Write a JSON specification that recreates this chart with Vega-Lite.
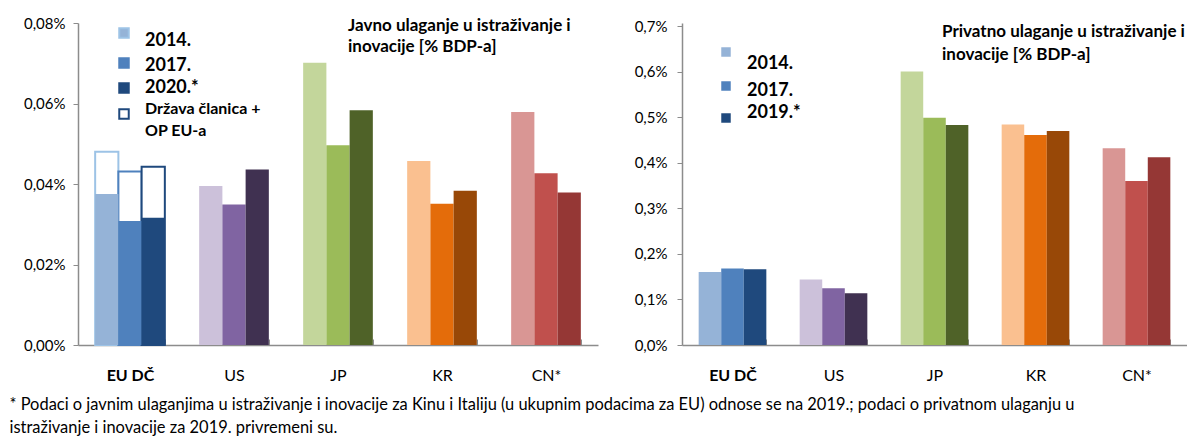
{
  "$schema": "https://vega.github.io/schema/vega-lite/v6.json",
  "padding": {"left": 9, "top": 16, "right": 0, "bottom": 5},
  "background": "white",
  "config": {
    "view": {"stroke": null},
    "font": "Lato",
    "axis": {"labelFont": "Lato", "labelColor": "#000000", "domainColor": "#8c8c8c", "tickColor": "#8c8c8c", "domainWidth": 1.5, "grid": false, "title": null}
  },
  "title": {
    "text": ["* Podaci o javnim ulaganjima u istraživanje i inovacije za Kinu i Italiju (u ukupnim podacima za EU) odnose se na 2019.; podaci o privatnom ulaganju u", "istraživanje i inovacije za 2019. privremeni su."],
    "orient": "bottom", "anchor": "start", "frame": "bounds",
    "font": "Lato", "fontSize": 16.45, "fontWeight": "normal", "color": "#000000",
    "lineHeight": 23, "offset": 14, "dx": -14
  },
  "resolve": {"scale": {"fill": "independent", "stroke": "independent", "y": "independent", "x": "independent", "xOffset": "independent"}, "legend": {"fill": "independent", "stroke": "independent"}},
  "spacing": 36,
  "hconcat": [
    {
      "width": 520,
      "height": 322,
      "title": {"text": ["Javno ulaganje u istraživanje i", "inovacije [% BDP-a]"], "orient": "none", "anchor": "start", "dx": 270, "dy": 3, "font": "Lato", "fontSize": 17, "fontWeight": "bold", "lineHeight": 21, "color": "#000000", "baseline": "middle"},
      "data": {"values": [
        {"country": "EU DČ", "year": "2014", "value": 0.0375, "measure": "national"},
        {"country": "EU DČ", "year": "2017", "value": 0.0308, "measure": "national"},
        {"country": "EU DČ", "year": "2020", "value": 0.0316, "measure": "national"},
        {"country": "EU DČ", "year": "2014", "value": 0.0480, "measure": "total"},
        {"country": "EU DČ", "year": "2017", "value": 0.0431, "measure": "total"},
        {"country": "EU DČ", "year": "2020", "value": 0.0443, "measure": "total"},
        {"country": "US", "year": "2014", "value": 0.0395, "measure": "national"},
        {"country": "US", "year": "2017", "value": 0.0349, "measure": "national"},
        {"country": "US", "year": "2020", "value": 0.0436, "measure": "national"},
        {"country": "JP", "year": "2014", "value": 0.0701, "measure": "national"},
        {"country": "JP", "year": "2017", "value": 0.0496, "measure": "national"},
        {"country": "JP", "year": "2020", "value": 0.0583, "measure": "national"},
        {"country": "KR", "year": "2014", "value": 0.0457, "measure": "national"},
        {"country": "KR", "year": "2017", "value": 0.0351, "measure": "national"},
        {"country": "KR", "year": "2020", "value": 0.0383, "measure": "national"},
        {"country": "CN*", "year": "2014", "value": 0.0579, "measure": "national"},
        {"country": "CN*", "year": "2017", "value": 0.0427, "measure": "national"},
        {"country": "CN*", "year": "2020", "value": 0.0379, "measure": "national"}
      ]},
      "encoding": {
        "x": {"field": "country", "type": "nominal", "sort": ["EU DČ", "US", "JP", "KR", "CN*"],
              "scale": {"paddingInner": 0.33, "paddingOuter": 0.165},
              "axis": {"labelAngle": 0, "labelFontSize": 16, "tickSize": -6, "tickBand": "extent", "labelPadding": 28,
                       "labelFontWeight": {"condition": {"test": "datum.value == 'EU DČ'", "value": "bold"}, "value": "normal"}}},
        "xOffset": {"field": "year", "type": "nominal", "scale": {"domain": ["2014", "2017", "2020"], "paddingInner": 0, "paddingOuter": 0}},
        "y": {"field": "value", "type": "quantitative", "scale": {"domain": [0, 0.08], "nice": false},
              "axis": {"values": [0, 0.02, 0.04, 0.06, 0.08], "labelExpr": "replace(format(datum.value, '.2f'), '.', ',') + '%'", "labelFontSize": 15, "tickSize": 5, "labelPadding": 8}}
      },
      "layer": [
        {
          "transform": [{"filter": "datum.measure == 'total'"}],
          "mark": {"type": "bar", "fill": "white", "strokeWidth": 2},
          "encoding": {
            "stroke": {"field": "year", "type": "nominal",
                       "scale": {"domain": ["2014", "2017", "2020", "OP"], "range": ["#9DC3E6", "#4F81BD", "#1F497D", "#1F497D"]},
                       "legend": {"orient": "none", "legendX": 37, "legendY": 1, "title": null, "symbolType": "square", "symbolSize": 90, "symbolStrokeWidth": 2,
                                  "labelFont": "Lato", "labelFontWeight": "bold", "labelFontSize": 18, "labelColor": "#000000", "labelOffset": 12, "rowPadding": 4, "padding": 0,
                                  "labelExpr": "datum.value == 'OP' ? ['Država članica +', 'OP EU-a'] : datum.value == '2020' ? '2020.*' : datum.value + '.'",
                                  "encode": {"labels": {"update": {"fontSize": {"signal": "datum.value == 'OP' ? 16 : 18"}, "dy": {"signal": "datum.value == '2014' ? 8 : datum.value == '2017' ? 3 : datum.value == '2020' ? 0 : -5"}, "lineHeight": {"value": 22}}}}}}
          }
        },
        {
          "transform": [{"filter": "datum.measure == 'national'"}],
          "mark": {"type": "bar"},
          "encoding": {
            "fill": {"field": "year", "type": "nominal",
                     "scale": {"domain": ["2014", "2017", "2020", "OP"], "range": ["#95B3D7", "#4F81BD", "#1F497D", "#ffffff"]},
                     "legend": {"orient": "none", "legendX": 37, "legendY": 1, "title": null, "symbolType": "square", "symbolSize": 90, "symbolStrokeWidth": 2,
                                "labelFont": "Lato", "labelFontWeight": "bold", "labelFontSize": 18, "labelColor": "#000000", "labelOffset": 12, "rowPadding": 4, "padding": 0,
                                "labelExpr": "datum.value == 'OP' ? ['Država članica +', 'OP EU-a'] : datum.value == '2020' ? '2020.*' : datum.value + '.'",
                                "encode": {"labels": {"update": {"fontSize": {"signal": "datum.value == 'OP' ? 16 : 18"}, "dy": {"signal": "datum.value == '2014' ? 8 : datum.value == '2017' ? 3 : datum.value == '2020' ? 0 : -5"}, "lineHeight": {"value": 22}}}}},
                     "condition": [
                       {"test": "datum.country == 'US' && datum.year == '2014'", "value": "#CCC1DA"},
                       {"test": "datum.country == 'US' && datum.year == '2017'", "value": "#8064A2"},
                       {"test": "datum.country == 'US' && datum.year == '2020'", "value": "#403151"},
                       {"test": "datum.country == 'JP' && datum.year == '2014'", "value": "#C3D69B"},
                       {"test": "datum.country == 'JP' && datum.year == '2017'", "value": "#9BBB59"},
                       {"test": "datum.country == 'JP' && datum.year == '2020'", "value": "#4F6228"},
                       {"test": "datum.country == 'KR' && datum.year == '2014'", "value": "#FAC090"},
                       {"test": "datum.country == 'KR' && datum.year == '2017'", "value": "#E46C0A"},
                       {"test": "datum.country == 'KR' && datum.year == '2020'", "value": "#984807"},
                       {"test": "datum.country == 'CN*' && datum.year == '2014'", "value": "#D99694"},
                       {"test": "datum.country == 'CN*' && datum.year == '2017'", "value": "#C0504D"},
                       {"test": "datum.country == 'CN*' && datum.year == '2020'", "value": "#953735"}
                     ]}
          }
        }
      ]
    },
    {
      "width": 505,
      "height": 322,
      "title": {"text": ["Privatno ulaganje u istraživanje i", "inovacije [% BDP-a]"], "orient": "none", "anchor": "start", "dx": 260, "dy": 9, "font": "Lato", "fontSize": 17, "fontWeight": "bold", "lineHeight": 23, "color": "#000000", "baseline": "middle"},
      "data": {"values": [
        {"country": "EU DČ", "year": "2014", "value": 0.160},
        {"country": "EU DČ", "year": "2017", "value": 0.168},
        {"country": "EU DČ", "year": "2019", "value": 0.166},
        {"country": "US", "year": "2014", "value": 0.144},
        {"country": "US", "year": "2017", "value": 0.1245},
        {"country": "US", "year": "2019", "value": 0.1135},
        {"country": "JP", "year": "2014", "value": 0.600},
        {"country": "JP", "year": "2017", "value": 0.4986},
        {"country": "JP", "year": "2019", "value": 0.4826},
        {"country": "KR", "year": "2014", "value": 0.484},
        {"country": "KR", "year": "2017", "value": 0.4606},
        {"country": "KR", "year": "2019", "value": 0.4694},
        {"country": "CN*", "year": "2014", "value": 0.432},
        {"country": "CN*", "year": "2017", "value": 0.360},
        {"country": "CN*", "year": "2019", "value": 0.412}
      ]},
      "mark": {"type": "bar"},
      "encoding": {
        "x": {"field": "country", "type": "nominal", "sort": ["EU DČ", "US", "JP", "KR", "CN*"],
              "scale": {"paddingInner": 0.33, "paddingOuter": 0.165},
              "axis": {"labelAngle": 0, "labelFontSize": 16, "tickSize": -6, "tickBand": "extent", "labelPadding": 28,
                       "labelFontWeight": {"condition": {"test": "datum.value == 'EU DČ'", "value": "bold"}, "value": "normal"}}},
        "xOffset": {"field": "year", "type": "nominal", "scale": {"domain": ["2014", "2017", "2019"], "paddingInner": 0, "paddingOuter": 0}},
        "y": {"field": "value", "type": "quantitative", "scale": {"domain": [0, 0.7066], "nice": false},
              "axis": {"values": [0, 0.1, 0.2, 0.3, 0.4, 0.5, 0.6, 0.7], "labelExpr": "replace(format(datum.value, '.1f'), '.', ',') + '%'", "labelFontSize": 15, "tickSize": 5, "labelPadding": 10}},
        "fill": {"field": "year", "type": "nominal",
                 "scale": {"domain": ["2014", "2017", "2019"], "range": ["#95B3D7", "#4F81BD", "#1F497D"]},
                 "legend": {"orient": "none", "legendX": 35, "legendY": 20, "title": null, "symbolType": "square", "symbolSize": 90,
                            "labelFont": "Lato", "labelFontWeight": "bold", "labelFontSize": 18, "labelColor": "#000000", "labelOffset": 12, "rowPadding": 4, "padding": 0,
                            "labelExpr": "datum.value == '2019' ? '2019.*' : datum.value + '.'",
                            "encode": {"labels": {"update": {"dy": {"signal": "datum.value == '2014' ? 12 : datum.value == '2017' ? 5 : -5"}}}}},
                 "condition": [
                   {"test": "datum.country == 'US' && datum.year == '2014'", "value": "#CCC1DA"},
                   {"test": "datum.country == 'US' && datum.year == '2017'", "value": "#8064A2"},
                   {"test": "datum.country == 'US' && datum.year == '2019'", "value": "#403151"},
                   {"test": "datum.country == 'JP' && datum.year == '2014'", "value": "#C3D69B"},
                   {"test": "datum.country == 'JP' && datum.year == '2017'", "value": "#9BBB59"},
                   {"test": "datum.country == 'JP' && datum.year == '2019'", "value": "#4F6228"},
                   {"test": "datum.country == 'KR' && datum.year == '2014'", "value": "#FAC090"},
                   {"test": "datum.country == 'KR' && datum.year == '2017'", "value": "#E46C0A"},
                   {"test": "datum.country == 'KR' && datum.year == '2019'", "value": "#984807"},
                   {"test": "datum.country == 'CN*' && datum.year == '2014'", "value": "#D99694"},
                   {"test": "datum.country == 'CN*' && datum.year == '2017'", "value": "#C0504D"},
                   {"test": "datum.country == 'CN*' && datum.year == '2019'", "value": "#953735"}
                 ]}
      }
    }
  ]
}
